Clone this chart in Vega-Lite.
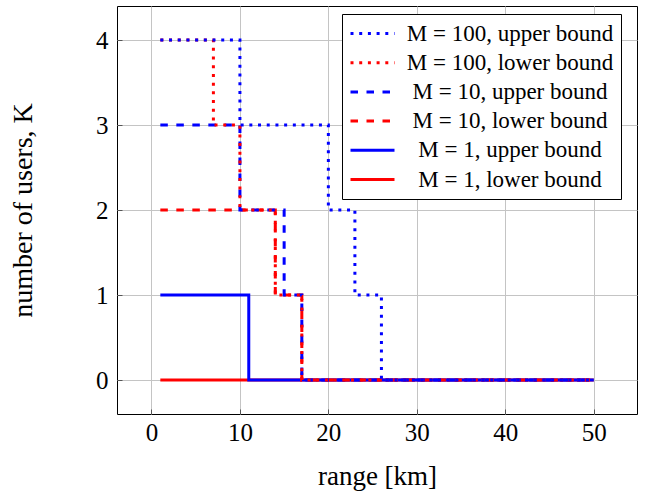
{
  "$schema": "https://vega.github.io/schema/vega-lite/v6.json",
  "width": 520,
  "height": 408,
  "autosize": "none",
  "padding": {"left": 117, "top": 6, "right": 11, "bottom": 79},
  "background": "white",
  "config": {
    "view": {"stroke": "black", "strokeWidth": 1},
    "font": "Liberation Serif"
  },
  "data": {
    "values": [
      {"series": "M = 1, lower bound", "x": 1, "y": 0},
      {"series": "M = 1, lower bound", "x": 50, "y": 0},
      {"series": "M = 1, upper bound", "x": 1, "y": 1},
      {"series": "M = 1, upper bound", "x": 11, "y": 0},
      {"series": "M = 1, upper bound", "x": 50, "y": 0},
      {"series": "M = 10, lower bound", "x": 1, "y": 2},
      {"series": "M = 10, lower bound", "x": 14, "y": 1},
      {"series": "M = 10, lower bound", "x": 17, "y": 0},
      {"series": "M = 10, lower bound", "x": 50, "y": 0},
      {"series": "M = 10, upper bound", "x": 1, "y": 3},
      {"series": "M = 10, upper bound", "x": 10, "y": 2},
      {"series": "M = 10, upper bound", "x": 15, "y": 1},
      {"series": "M = 10, upper bound", "x": 17, "y": 0},
      {"series": "M = 10, upper bound", "x": 50, "y": 0},
      {"series": "M = 100, lower bound", "x": 1, "y": 4},
      {"series": "M = 100, lower bound", "x": 7, "y": 3},
      {"series": "M = 100, lower bound", "x": 10, "y": 2},
      {"series": "M = 100, lower bound", "x": 14, "y": 1},
      {"series": "M = 100, lower bound", "x": 17, "y": 0},
      {"series": "M = 100, lower bound", "x": 50, "y": 0},
      {"series": "M = 100, upper bound", "x": 1, "y": 4},
      {"series": "M = 100, upper bound", "x": 10, "y": 3},
      {"series": "M = 100, upper bound", "x": 20, "y": 2},
      {"series": "M = 100, upper bound", "x": 23, "y": 1},
      {"series": "M = 100, upper bound", "x": 26, "y": 0},
      {"series": "M = 100, upper bound", "x": 50, "y": 0}
    ]
  },
  "mark": {"type": "line", "interpolate": "step-after", "strokeWidth": 3, "strokeCap": "butt", "clip": true},
  "encoding": {
    "x": {
      "field": "x", "type": "quantitative",
      "scale": {"domain": [-3.9, 54.9], "nice": false, "zero": false},
      "axis": {
        "title": "range [km]", "values": [0, 10, 20, 30, 40, 50],
        "grid": true, "gridColor": "#c4c4c4", "gridWidth": 1,
        "domain": false, "ticks": true, "tickSize": -5, "tickColor": "#555555",
        "labelFont": "Liberation Serif", "labelFontSize": 25, "labelColor": "black", "labelPadding": 11,
        "titleFont": "Liberation Serif", "titleFontSize": 27, "titleFontWeight": "normal", "titleColor": "black", "titlePadding": 18
      }
    },
    "y": {
      "field": "y", "type": "quantitative",
      "scale": {"domain": [-0.4, 4.4], "nice": false, "zero": false},
      "axis": {
        "title": "number of users, K", "values": [0, 1, 2, 3, 4],
        "grid": true, "gridColor": "#c4c4c4", "gridWidth": 1,
        "domain": false, "ticks": true, "tickSize": -5, "tickColor": "#555555",
        "labelFont": "Liberation Serif", "labelFontSize": 25, "labelColor": "black", "labelPadding": 14,
        "titleFont": "Liberation Serif", "titleFontSize": 28, "titleFontWeight": "normal", "titleColor": "black", "titlePadding": 58
      }
    },
    "color": {
      "field": "series", "type": "nominal",
      "scale": {
        "domain": ["M = 100, upper bound", "M = 100, lower bound", "M = 10, upper bound", "M = 10, lower bound", "M = 1, upper bound", "M = 1, lower bound"],
        "range": ["#0000ff", "#ff0000", "#0000ff", "#ff0000", "#0000ff", "#ff0000"]
      },
      "legend": {
        "orient": "none", "legendX": 225, "legendY": 8, "title": null,
        "symbolType": "M-1,0H3", "symbolSize": 484, "symbolStrokeWidth": 3,
        "labelFont": "Liberation Serif", "labelFontSize": 23, "labelColor": "black",
        "labelAlign": "center", "labelOffset": 136, "labelLimit": 400,
        "strokeColor": "black", "fillColor": "white", "padding": 7, "rowPadding": 4.2, "cornerRadius": 0
      }
    },
    "strokeDash": {
      "field": "series", "type": "nominal",
      "scale": {
        "domain": ["M = 100, upper bound", "M = 100, lower bound", "M = 10, upper bound", "M = 10, lower bound", "M = 1, upper bound", "M = 1, lower bound"],
        "range": [[3, 5.7], [3, 5.7], [7.5, 8.5], [7.5, 8.5], [1, 0], [1, 0]]
      },
      "legend": null
    },
    "order": {"field": "x", "type": "quantitative"}
  }
}
